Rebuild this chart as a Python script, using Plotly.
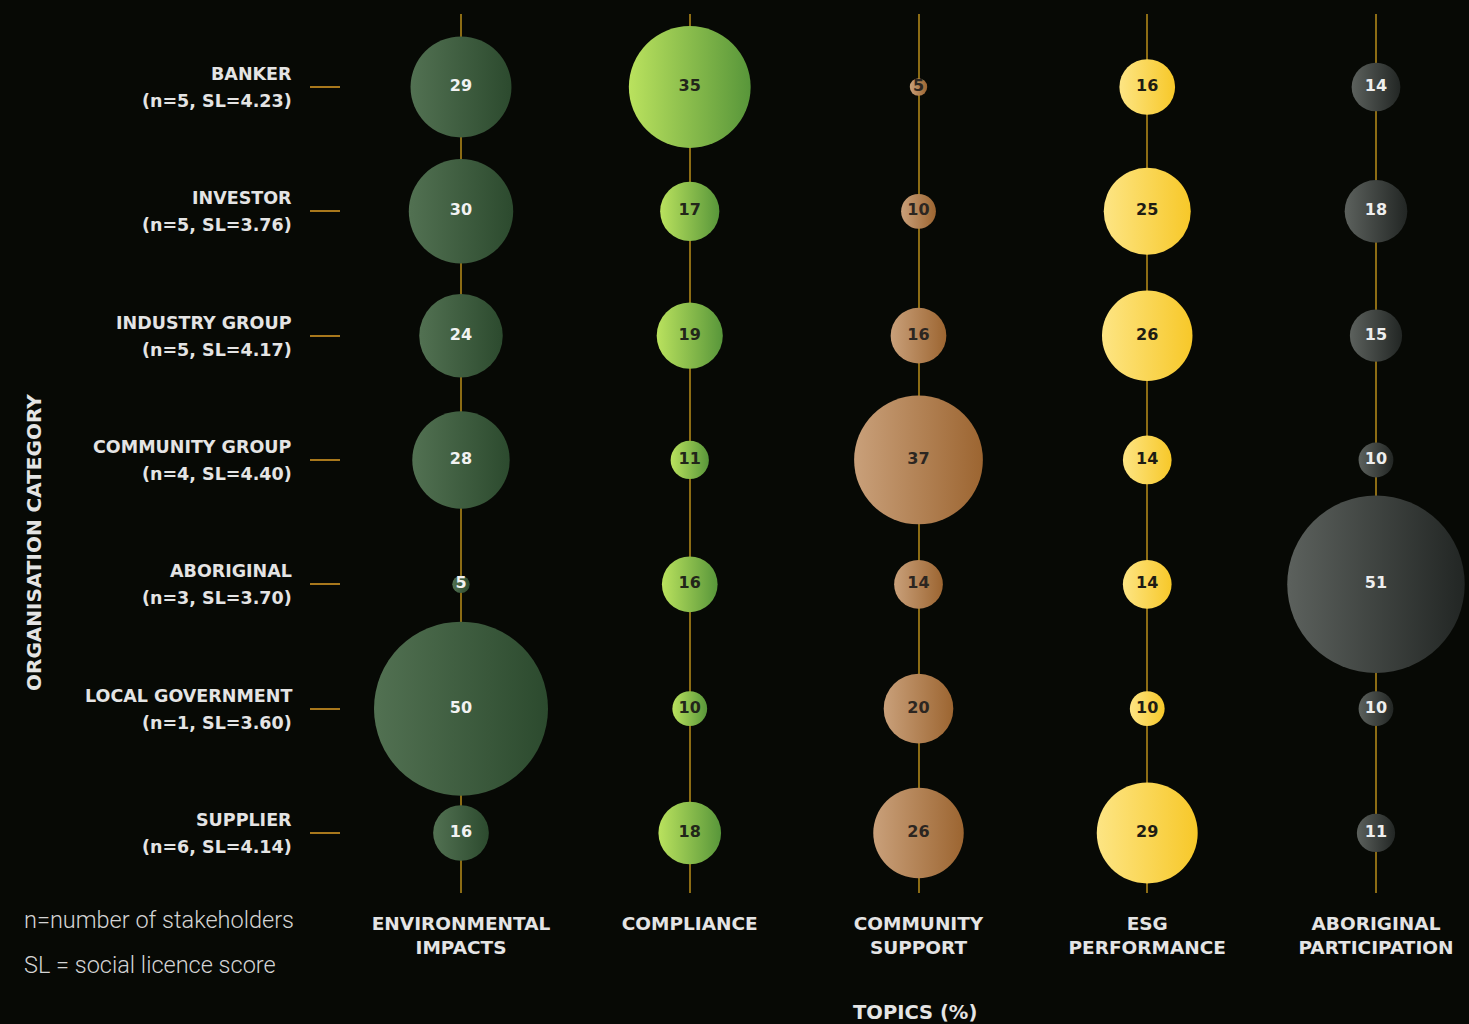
import plotly.graph_objects as go

# Organisation categories (rows, top to bottom) and their sample stats
categories = ["BANKER", "INVESTOR", "INDUSTRY GROUP", "COMMUNITY GROUP",
              "ABORIGINAL", "LOCAL GOVERNMENT", "SUPPLIER"]
n_stakeholders = [5, 5, 5, 4, 3, 1, 6]
sl_scores = ["4.23", "3.76", "4.17", "4.40", "3.70", "3.60", "4.14"]

# Topics (columns, left to right)
topics = ["ENVIRONMENTAL<br>IMPACTS", "COMPLIANCE", "COMMUNITY<br>SUPPORT",
          "ESG<br>PERFORMANCE", "ABORIGINAL<br>PARTICIPATION"]

# Share of mentions (%) per topic, one value per organisation category
environmental_impacts = [29, 30, 24, 28, 5, 50, 16]
compliance = [35, 17, 19, 11, 16, 10, 18]
community_support = [5, 10, 16, 37, 14, 20, 26]
esg_performance = [16, 25, 26, 14, 14, 10, 29]
aboriginal_participation = [14, 18, 15, 10, 51, 10, 11]

series = [environmental_impacts, compliance, community_support,
          esg_performance, aboriginal_participation]

# Bubble fills: left colour, right colour, label colour
styles = [
    ("#527152", "#2c4a2e", "#f2f2f2"),
    ("#bae25e", "#58963a", "#22261a"),
    ("#c9a07a", "#9c6531", "#2c2621"),
    ("#fde584", "#f7c829", "#1e1c14"),
    ("#5c615d", "#222624", "#eeeeee"),
]

BG = "#070905"
GOLD = "#8c6c14"
TICK = "#a8781c"
LABEL = "#e4e4e4"
BOLD = dict(family="DejaVu Sans", weight="bold")

W, H = 1469, 1024
L, R, T, B = 341, 0, 14, 131


def px_x(p):
    """Pixel column -> paper x."""
    return (p - L) / (W - L - R)


def px_y(p):
    """Pixel row (from top) -> paper y."""
    return (H - B - p) / (H - T - B)


fig = go.Figure()

rows = list(range(len(categories)))
for i, (vals, (c_left, c_right, c_text)) in enumerate(zip(series, styles)):
    fig.add_trace(go.Scatter(
        x=[i] * len(vals),
        y=rows,
        mode="markers+text",
        text=[str(v) for v in vals],
        textposition="middle center",
        textfont=dict(size=16, color=c_text, **BOLD),
        marker=dict(
            size=vals,
            sizemode="diameter",
            sizeref=1 / 3.48,
            color=c_left,
            gradient=dict(type="horizontal", color=c_right),
            line=dict(width=0),
            opacity=1,
        ),
        cliponaxis=False,
        hoverinfo="skip",
        showlegend=False,
    ))

# Row labels: category name above, (n, SL) below
for r, (name, n, sl) in enumerate(zip(categories, n_stakeholders, sl_scores)):
    fig.add_annotation(x=0, xref="paper", y=r, yref="y", text=name,
                       xanchor="right", yanchor="middle", xshift=-47, yshift=13,
                       showarrow=False, font=dict(size=17.5, color=LABEL, **BOLD))
    fig.add_annotation(x=0, xref="paper", y=r, yref="y",
                       text=f"(n={n}, SL={sl})",
                       xanchor="right", yanchor="middle", xshift=-47, yshift=-14,
                       showarrow=False, font=dict(size=17.5, color=LABEL, **BOLD))

# Axis titles
fig.add_annotation(x=px_x(34), xref="paper", y=px_y(543), yref="paper",
                   text="ORGANISATION CATEGORY",
                   showarrow=False, textangle=-90, xanchor="center", yanchor="middle",
                   font=dict(size=20, color=LABEL, **BOLD))
fig.add_annotation(x=px_x(915), xref="paper", y=px_y(1012), yref="paper",
                   text="TOPICS (%)", showarrow=False, xanchor="center", yanchor="middle",
                   font=dict(size=19.5, color=LABEL, **BOLD))

# Footnotes
for text, yp in [("n=number of stakeholders", 920), ("SL = social licence score", 965)]:
    fig.add_annotation(x=px_x(22), xref="paper", y=px_y(yp), yref="paper",
                       text=text, showarrow=False, xanchor="left", yanchor="middle",
                       font=dict(family="Roboto", size=23.5, weight=300, color="#d4d4d4"))

fig.update_layout(
    width=W, height=H,
    margin=dict(l=L, r=R, t=T, b=B, pad=0),
    paper_bgcolor=BG, plot_bgcolor=BG,
    xaxis=dict(
        range=[-0.5246, 4.4066],
        tickmode="array", tickvals=list(range(len(topics))), ticktext=topics,
        showgrid=True, gridcolor=GOLD, gridwidth=2,
        zeroline=False, showline=False, ticks="",
        tickfont=dict(size=18.5, color=LABEL, **BOLD),
        ticklabelstandoff=17,
        fixedrange=True,
    ),
    yaxis=dict(
        range=[6.4828, -0.5871],
        tickmode="array", tickvals=rows,
        showticklabels=False,
        ticks="outside", ticklen=30, tickwidth=2, tickcolor=TICK,
        showgrid=False, zeroline=False, showline=False,
        fixedrange=True,
    ),
)

fig.write_html("out.html")
